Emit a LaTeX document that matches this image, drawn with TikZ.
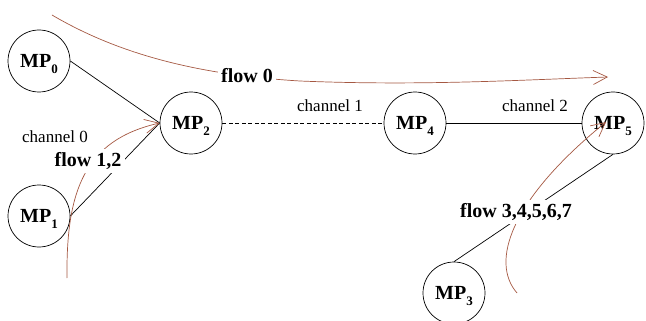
\documentclass[tikz,border=0pt]{standalone}
\usepackage{fontspec}
\setmainfont{Liberation Serif}
\usetikzlibrary{arrows.meta}
\definecolor{flowc}{RGB}{165,88,66}
\newcommand\mpsub[1]{\raisebox{-6pt}[0pt][0pt]{\fontsize{13}{13}\selectfont #1}}
\begin{document}
\begin{tikzpicture}[x=1pt,y=-1pt,
  mp/.style={circle,draw,line width=0.7pt,minimum size=62pt,inner sep=0pt,font=\fontsize{20}{20}\selectfont\bfseries},
  link/.style={line width=0.7pt},
  flowline/.style={draw=flowc,line width=0.7pt},
  flowlbl/.style={fill=white,inner sep=3.5pt,font=\fontsize{20}{20}\selectfont\bfseries},
  chan/.style={font=\fontsize{17}{17}\selectfont},
  tip/.style={-{Straight Barb[length=14pt,width=14pt]}}]
\useasboundingbox (0,0) rectangle (646,321);
% nodes
\node[mp] (mp0) at (39,61) {MP\mpsub{0}};
\node[mp] (mp1) at (39,216) {MP\mpsub{1}};
\node[mp] (mp2) at (191,123) {MP\mpsub{2}};
\node[mp] (mp4) at (415,123) {MP\mpsub{4}};
\node[mp] (mp5) at (613,123) {MP\mpsub{5}};
\node[mp] (mp3) at (454,293) {MP\mpsub{3}};
% links
\draw[link] (mp0.east) -- (mp2.west);
\draw[link] (mp1.east) -- (mp2.west);
\draw[link,dash pattern=on 4pt off 2.5pt] (mp2.east) -- (mp4.west);
\draw[link] (mp4.east) -- (mp5.west);
\draw[link] (mp5.south) -- (mp3.north);
% flows
\coordinate (f0s) at (52,15);
\coordinate (f0e) at (608,77);
\coordinate (f12s) at (67,278);
\coordinate (f3s) at (517,293);
\coordinate (f3e) at (606,122);
\draw[flowline,tip] (f0s) .. controls (120,55) and (200,75) .. (300,81)
  .. controls (420,86) and (520,80) .. (f0e);
\draw[flowline,tip] (f12s) .. controls (66,190) and (85,140) .. (mp2.west);
\draw[flowline,tip] (f3s) .. controls (490,262) and (510,200) .. (f3e);
% labels
\node[flowlbl] (l0) at (247,76) {flow 0};
\node[flowlbl] (l12) at (88,161) {flow 1,2};
\node[flowlbl] (l3) at (516,212) {flow 3,4,5,6,7};
\node[chan] (c0) at (55,137) {channel 0};
\node[chan] (c1) at (330,106) {channel 1};
\node[chan] (c2) at (535,106) {channel 2};
\end{tikzpicture}
\end{document}
